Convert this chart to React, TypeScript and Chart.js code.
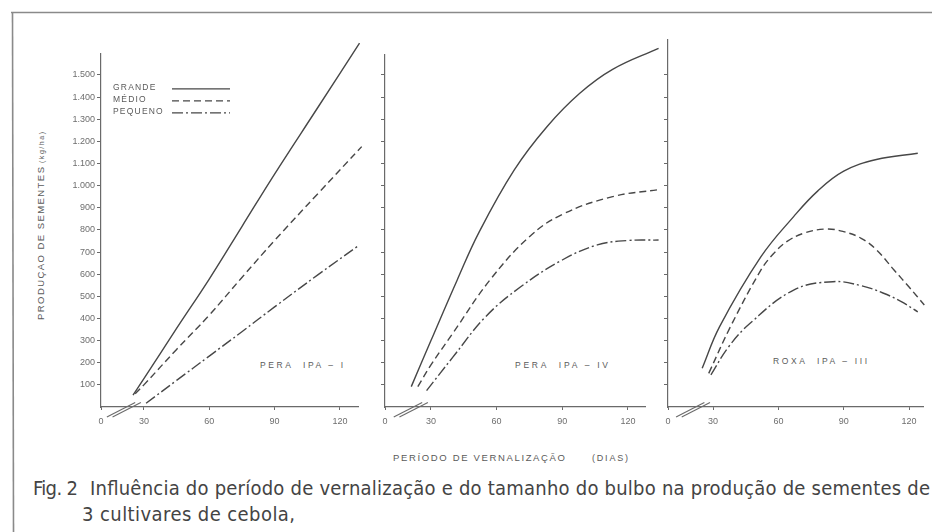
import React, { useEffect, useRef } from 'react';
import { Chart, registerables } from 'chart.js';

Chart.register(...registerables);

// ---------- data ----------
const SERIES_NAMES = ['GRANDE', 'MÉDIO', 'PEQUENO'];
const PANEL_LABELS = ['PERA  IPA – I', 'PERA  IPA – IV', 'ROXA  IPA – III'];
const X_TICKS = [30, 60, 90, 120];
const Y_TICKS = [100, 200, 300, 400, 500, 600, 700, 800, 900, 1000, 1100, 1200, 1300, 1400, 1500];
const X_AXIS_LABEL = 'PERÍODO DE VERNALIZAÇÃO';
const X_AXIS_UNIT = '(DIAS)';
const Y_AXIS_LABEL = 'PRODUÇAO DE SEMENTES';
const Y_AXIS_UNIT = '(kg/ha)';
const CAPTION_FIG = 'Fig. 2';
const CAPTION_1 = 'Influência do período de vernalização e do tamanho do bulbo na produção de sementes de';
const CAPTION_2 = '3 cultivares de cebola,';

// Panel 1 – PERA IPA - I
const P1_GRANDE_X = [25, 30, 45, 60, 75, 90, 110, 129];
const P1_GRANDE_Y = [54, 128, 355, 578, 815, 1052, 1355, 1644];
const P1_MEDIO_X = [26, 30, 45, 60, 75, 90, 110, 130];
const P1_MEDIO_Y = [60, 100, 260, 415, 585, 752, 965, 1176];
const P1_PEQUENO_X = [31, 45, 60, 75, 90, 110, 129];
const P1_PEQUENO_Y = [17, 120, 230, 340, 452, 598, 732];

// Panel 2 – PERA IPA - IV
const P2_GRANDE_X = [21, 30, 42, 52, 68, 83, 98, 113, 134];
const P2_GRANDE_Y = [92, 300, 574, 790, 1070, 1266, 1417, 1525, 1620];
const P2_MEDIO_X = [24, 30, 40, 57, 75, 90, 113, 135];
const P2_MEDIO_Y = [92, 190, 333, 574, 769, 870, 950, 983];
const P2_PEQUENO_X = [28, 40, 55, 71, 90, 106, 120, 134];
const P2_PEQUENO_Y = [74, 225, 408, 543, 664, 732, 752, 754];

// Panel 3 – ROXA IPA - III
const P3_GRANDE_X = [25, 33, 52, 67, 78, 90, 105, 124];
const P3_GRANDE_Y = [175, 363, 679, 860, 975, 1065, 1118, 1146];
const P3_MEDIO_X = [28, 38, 52, 58, 64, 72, 82, 90, 98, 105, 113, 120, 127];
const P3_MEDIO_Y = [152, 363, 619, 695, 748, 786, 804, 792, 762, 710, 620, 542, 461];
const P3_PEQUENO_X = [29, 37, 47, 67, 85, 98, 108, 116, 124];
const P3_PEQUENO_Y = [145, 270, 378, 528, 566, 548, 515, 478, 430];

// axis ranges per panel (x axis is broken: leftmost value is labelled 0)
const X_MIN = [10.3, 9.0, 9.3];
const X_MAX = [128.3, 127.8, 126.4];
const Y_MAX = [1595, 1590, 1660];

// axis break marks in data units
const BREAK_X = [13, 26];
const BREAK_Y = [-45, 20];
const BREAK_SHIFT = 2.6;

// ---------- styles ----------
const W = 932;
const H = 532;
const LINE_COLOR = '#474747';
const AXIS_COLOR = '#6a6a6a';
const TEXT_COLOR = '#5a5a5a';
const TICK_COLOR = '#6e6e6e';
const DASHES: number[][] = [[], [7, 4], [11, 3, 2, 3]];
const FONT = '"Liberation Sans", Arial, sans-serif';
const CAPTION_FONT = '"Liberation Sans Narrow", "DejaVu Sans Condensed", "Liberation Sans", Arial, sans-serif';

// layout (pixel placement of each panel's plot area)
const AXIS_LEFT = [101, 385, 668];
const AXIS_RIGHT = [358, 645, 923];
const AXIS_BOTTOM = 407;
const PX_PER_UNIT = 0.2214;
const X_AXIS_H = 25;
const Y_AXIS_W = 45;

const PANELS = [
  { series: [[P1_GRANDE_X, P1_GRANDE_Y], [P1_MEDIO_X, P1_MEDIO_Y], [P1_PEQUENO_X, P1_PEQUENO_Y]] },
  { series: [[P2_GRANDE_X, P2_GRANDE_Y], [P2_MEDIO_X, P2_MEDIO_Y], [P2_PEQUENO_X, P2_PEQUENO_Y]] },
  { series: [[P3_GRANDE_X, P3_GRANDE_Y], [P3_MEDIO_X, P3_MEDIO_Y], [P3_PEQUENO_X, P3_PEQUENO_Y]] },
];

function fmtThousands(v: number): string {
  if (v >= 1000) {
    return `${Math.floor(v / 1000)}.${String(v % 1000).padStart(3, '0')}`;
  }
  return String(v);
}

const breakPlugin = {
  id: 'axisBreak',
  afterDraw(chart: any) {
    const ctx = chart.ctx;
    const xs = chart.scales.x;
    const ys = chart.scales.y;
    ctx.save();
    ctx.strokeStyle = AXIS_COLOR;
    ctx.lineWidth = 1.1;
    ctx.setLineDash([]);
    [0, BREAK_SHIFT].forEach((o) => {
      ctx.beginPath();
      ctx.moveTo(xs.getPixelForValue(BREAK_X[0] + o), ys.getPixelForValue(BREAK_Y[0]));
      ctx.lineTo(xs.getPixelForValue(BREAK_X[1] + o), ys.getPixelForValue(BREAK_Y[1]));
      ctx.stroke();
    });
    ctx.restore();
  },
};

const legendPlugin = {
  id: 'innerLegend',
  afterDraw(chart: any) {
    const ctx = chart.ctx;
    const { left, top } = chart.chartArea;
    ctx.save();
    ctx.font = `8.5px ${FONT}`;
    (ctx as any).letterSpacing = '1.2px';
    ctx.fillStyle = TEXT_COLOR;
    ctx.textBaseline = 'middle';
    chart.data.datasets.forEach((ds: any, i: number) => {
      const y = top + 34 + i * 12;
      ctx.fillText(ds.label, left + 12, y);
      ctx.strokeStyle = LINE_COLOR;
      ctx.lineWidth = 1.2;
      ctx.setLineDash(DASHES[i]);
      ctx.beginPath();
      ctx.moveTo(left + 71, y + 1);
      ctx.lineTo(left + 129, y + 1);
      ctx.stroke();
    });
    ctx.restore();
  },
};

function makeConfig(idx: number): any {
  const p = PANELS[idx];
  const xmin = X_MIN[idx];
  const xmax = X_MAX[idx];
  const ymax = Y_MAX[idx];
  const top = AXIS_BOTTOM - ymax * PX_PER_UNIT;
  return {
    type: 'line',
    data: {
      datasets: p.series.map(([xs, ys], i) => ({
        label: SERIES_NAMES[i],
        data: xs.map((x, j) => ({ x, y: ys[j] })),
        borderColor: LINE_COLOR,
        borderWidth: 1.4,
        borderDash: DASHES[i],
        pointRadius: 0,
        tension: 0.4,
        fill: false,
        clip: false,
      })),
    },
    options: {
      responsive: false,
      animation: false,
      events: [],
      layout: {
        padding: {
          left: AXIS_LEFT[idx] - Y_AXIS_W,
          right: W - AXIS_RIGHT[idx],
          top,
          bottom: H - AXIS_BOTTOM - X_AXIS_H,
        },
      },
      plugins: {
        legend: { display: false },
        tooltip: { enabled: false },
      },
      scales: {
        x: {
          type: 'linear',
          min: xmin,
          max: xmax,
          afterBuildTicks: (s: any) => {
            s.ticks = [xmin, ...X_TICKS].map((v) => ({ value: v }));
          },
          afterFit: (s: any) => {
            s.height = X_AXIS_H;
          },
          grid: { drawOnChartArea: false, drawTicks: true, tickLength: 3, color: AXIS_COLOR },
          border: { display: true, color: AXIS_COLOR, width: 1.2 },
          ticks: {
            autoSkip: false,
            maxRotation: 0,
            padding: 6,
            color: TICK_COLOR,
            font: { size: 9, family: FONT },
            callback: (v: number) => (v === xmin ? '0' : String(v)),
          },
        },
        y: {
          type: 'linear',
          min: 0,
          max: ymax,
          afterBuildTicks: (s: any) => {
            s.ticks = Y_TICKS.map((v) => ({ value: v }));
          },
          afterFit: (s: any) => {
            s.width = Y_AXIS_W;
          },
          grid: { drawOnChartArea: false, drawTicks: true, tickLength: 4, color: AXIS_COLOR },
          border: { display: true, color: AXIS_COLOR, width: 1.2 },
          ticks: {
            padding: 2,
            color: TICK_COLOR,
            font: { size: 9, family: FONT },
            callback: (v: number) => (idx === 0 ? fmtThousands(v) : ''),
          },
        },
      },
    },
    plugins: idx === 0 ? [breakPlugin, legendPlugin] : [breakPlugin],
  };
}

function Panel({ idx }: { idx: number }) {
  const ref = useRef<HTMLCanvasElement | null>(null);
  useEffect(() => {
    if (!ref.current) return;
    const chart = new Chart(ref.current, makeConfig(idx));
    return () => chart.destroy();
  }, [idx]);
  return (
    <canvas
      ref={ref}
      width={W}
      height={H}
      style={{ position: 'absolute', left: 0, top: 0, width: W, height: H }}
    />
  );
}

const LABEL_POS = [
  { x: 260, y: 368, w: 83 },
  { x: 515, y: 368, w: 93 },
  { x: 773, y: 364, w: 94 },
];

export default function App() {
  return (
    <div
      style={{
        position: 'fixed',
        left: 0,
        top: 0,
        width: W,
        height: H,
        background: '#ffffff',
        overflow: 'hidden',
      }}
    >
      <svg
        width={W}
        height={H}
        style={{ position: 'absolute', left: 0, top: 0 }}
        fontFamily={FONT}
      >
        <line x1={11} y1={12.5} x2={W} y2={12.5} stroke="#8a8a8a" strokeWidth={1.6} />
        <line x1={12.5} y1={12} x2={13.5} y2={H} stroke="#8a8a8a" strokeWidth={1.6} />
        {PANEL_LABELS.map((t, i) => (
          <text
            key={t}
            x={LABEL_POS[i].x}
            y={LABEL_POS[i].y}
            fontSize={8.5}
            fill={TEXT_COLOR}
            textLength={LABEL_POS[i].w}
            lengthAdjust="spacing"
            xmlSpace="preserve"
          >
            {t}
          </text>
        ))}
        <text
          transform="translate(44,320) rotate(-90)"
          fontSize={9.5}
          fill={TEXT_COLOR}
          textLength={153}
          lengthAdjust="spacing"
        >
          {Y_AXIS_LABEL}
        </text>
        <text
          transform="translate(44,163) rotate(-90)"
          fontSize={7}
          fill={TEXT_COLOR}
          textLength={31}
          lengthAdjust="spacing"
        >
          {Y_AXIS_UNIT}
        </text>
        <text x={393} y={461} fontSize={9.5} fill={TEXT_COLOR} textLength={172} lengthAdjust="spacing">
          {X_AXIS_LABEL}
        </text>
        <text x={592} y={461} fontSize={9} fill={TEXT_COLOR} textLength={36} lengthAdjust="spacing">
          {X_AXIS_UNIT}
        </text>
        <g fontFamily={CAPTION_FONT} fill="#444444" fontSize={20}>
          <text x={33} y={495} textLength={45} lengthAdjust="spacing">
            {CAPTION_FIG}
          </text>
          <text x={90} y={495} textLength={840} lengthAdjust="spacing">
            {CAPTION_1}
          </text>
          <text x={82} y={521} textLength={213} lengthAdjust="spacing">
            {CAPTION_2}
          </text>
        </g>
      </svg>
      {[0, 1, 2].map((i) => (
        <Panel key={i} idx={i} />
      ))}
    </div>
  );
}
